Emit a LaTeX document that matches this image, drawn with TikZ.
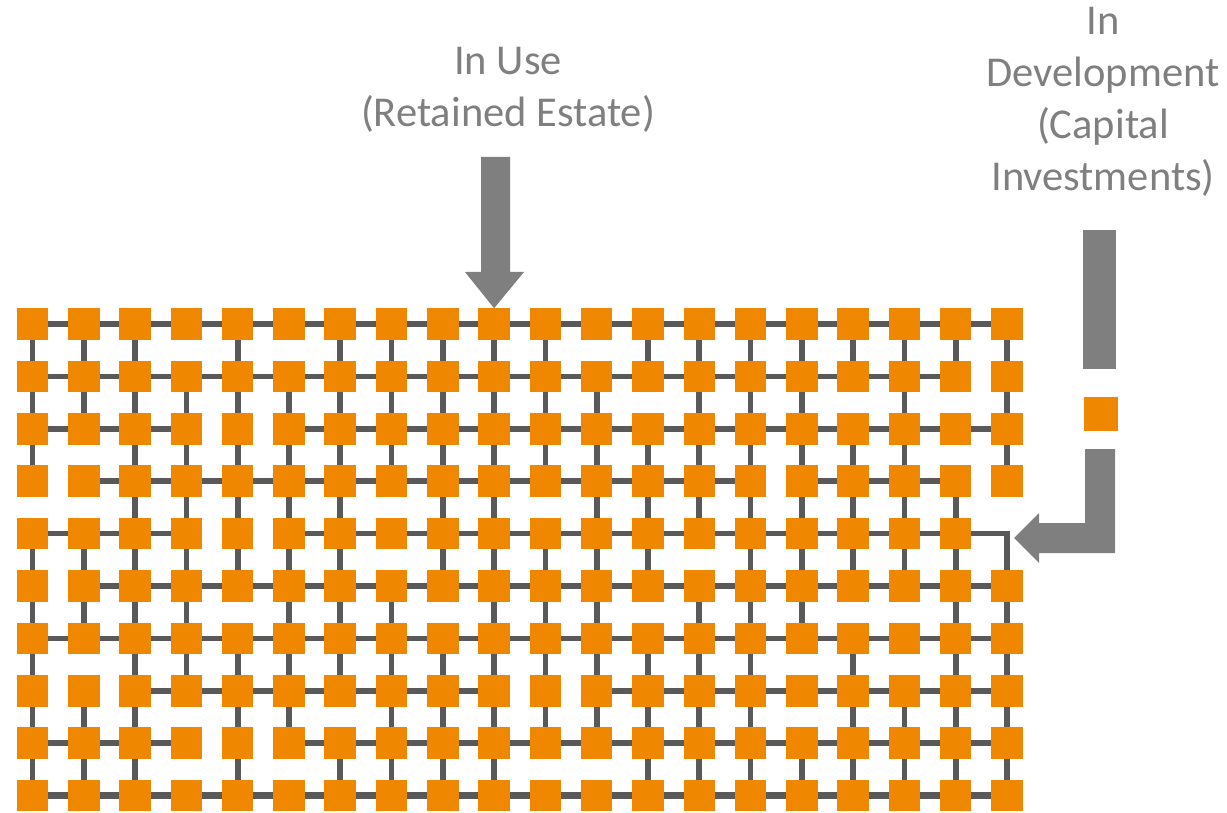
\documentclass[tikz,border=0pt]{standalone}
\usepackage{fontspec}
\setmainfont{Carlito}
\definecolor{sqorange}{HTML}{F08700}
\definecolor{linegray}{HTML}{595959}
\definecolor{arrowgray}{HTML}{7F7F7F}
\newcommand\missing[3]{\foreach \m in {#3}{\expandafter\gdef\csname miss#1:#2:\m\endcsname{}}}
\begin{document}
\begin{tikzpicture}[x=1pt,y=-1pt,
  sq/.style={rectangle,fill=sqorange,minimum size=31.5pt,inner sep=0pt,outer sep=0pt},
  gl/.style={draw=linegray,line width=5.7pt},
  glthick/.style={draw=linegray,line width=7.5pt},
  blockarrow/.style={fill=arrowgray,draw=none},
  lbl/.style={align=center,text=arrowgray,font=\fontsize{42.5}{52}\selectfont,inner sep=0pt}]
\useasboundingbox (0,0) rectangle (1227,813);
% missing pieces of the grid
\missing{N}{5}{20}
\missing{H}{2}{19}
\missing{H}{3}{4,5}
\missing{H}{4}{1,15,19}
\missing{H}{5}{4,5,19}
\missing{H}{6}{1}
\missing{H}{8}{1,2,10,11}
\missing{H}{9}{4,5}
\missing{V}{1}{4,6,12}
\missing{V}{2}{13,17,19}
\missing{V}{3}{2,19}
\missing{V}{4}{1,2,8,11,20}
\missing{V}{5}{8,14,20}
\missing{V}{6}{5,9,13,17,18}
\missing{V}{7}{2,16,18}
\missing{V}{8}{4,7,16}
\missing{V}{9}{4,6,11,12}
% squares
\foreach \r in {1,...,10}{
  \foreach \c in {1,...,20}{
    \ifcsname missN:\r:\c\endcsname\else
      \node[sq] (s-\r-\c) at ({32.5+(\c-1)*51.29},{324+(\r-1)*52.4}) {};
    \fi
  }
}
% horizontal links
\foreach \r in {1,...,10}{
  \foreach \c in {1,...,19}{
    \pgfmathtruncatemacro\d{\c+1}
    \ifcsname missH:\r:\c\endcsname\else
      \ifnum\r=10
        \draw[glthick] (s-\r-\c) -- (s-\r-\d);
      \else
        \draw[gl] (s-\r-\c) -- (s-\r-\d);
      \fi
    \fi
  }
}
% vertical links
\foreach \r in {1,...,9}{
  \pgfmathtruncatemacro\q{\r+1}
  \foreach \c in {1,...,20}{
    \ifcsname missV:\r:\c\endcsname\else
      \draw[gl] (s-\r-\c) -- (s-\q-\c);
    \fi
  }
}
% bent link to the new column
\coordinate (bend) at (s-6-20 |- s-5-19);
\draw[gl,line join=miter] (s-5-19) -- (bend) -- (s-6-20);
% labels
\node[lbl] (inuse) at (508,90) {In Use\\(Retained Estate)};
\node[lbl] (indev) at (1103,102) {In\\Development\\(Capital\\Investments)};
% down arrow into the grid
\fill[blockarrow] (481,157) -- (510,157) -- (510,272) -- (524,272) -- (s-1-10.north) -- (465,272) -- (481,272) -- cycle;
% right side: bar, new square, bent arrow
\fill[blockarrow] (1083,230) rectangle (1116,369);
\node[sq,minimum size=34pt] (newsq) at (1100.5,413.5) {};
\fill[blockarrow] (1085,449) -- (1115,449) -- (1115,553) -- (1039,553) -- (1039,563) -- (1014,538) -- (1039,513) -- (1039,523) -- (1085,523) -- cycle;
\end{tikzpicture}
\end{document}
